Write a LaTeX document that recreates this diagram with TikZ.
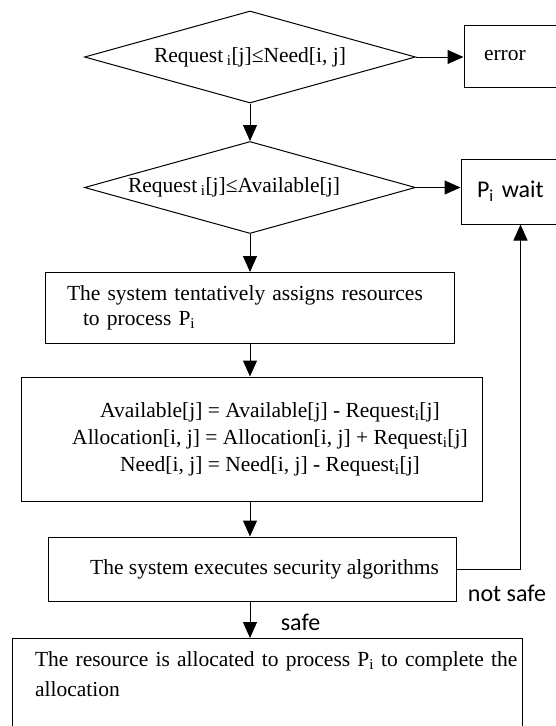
\documentclass[tikz,border=0pt]{standalone}
\usepackage{fontspec}
\setmainfont{Liberation Serif}
\newfontfamily\labelfont{Carlito}
\usetikzlibrary{shapes.geometric,arrows.meta,positioning}

\tikzset{
  decision/.style={diamond, draw, line width=1pt, aspect=3.6, minimum width=331pt,
    minimum height=92pt, inner sep=0pt, font=\fontsize{21.5}{25}\selectfont},
  process/.style={rectangle, draw, line width=1pt, inner sep=0pt, font=\fontsize{21.5}{25}\selectfont},
  arr/.style={line width=1pt, -{Triangle[width=14pt,length=16pt]}},
  note/.style={font=\labelfont\fontsize{24}{28}\selectfont}
}

\begin{document}
\begin{tikzpicture}[x=1pt, y=-1pt]
  \clip (0,0) rectangle (556,726);
  \useasboundingbox (0,0) rectangle (556,726);
  \coordinate (spine) at (250,0);

  % Checks
  \node[decision] (needchk) at (250,57) {Request\,\textsubscript{i}[j]≤Need[i, j]};
  \node[process, minimum width=130pt, minimum height=62pt, text width=90pt, align=left] (error) at (529,56) {error};

  \node[decision] (availchk) at (250,187.5) {\hspace*{-32pt}Request\,\textsubscript{i}[j]≤Available[j]};
  \node[process, minimum width=130pt, minimum height=65pt, text width=98pt, align=left,
    font=\labelfont\fontsize{24}{28}\selectfont] (wait) at (526,191.5) {P\textsubscript{i} wait};

  % Tentative allocation
  \node[process, minimum width=409pt, minimum height=71pt, text width=365pt, align=left] (assign) at (249.5,308)
    {The system tentatively assigns resources\\\hspace*{16pt}to process P\textsubscript{i}};

  \node[process, minimum width=461pt, minimum height=124pt, align=center,
    font=\fontsize{21.5}{27}\selectfont] (update) at (251.5,439)
    {\hspace*{37pt}Available[j] = Available[j] - Request\textsubscript{i}[j]\\
     \hspace*{37pt}Allocation[i, j] = Allocation[i, j] + Request\textsubscript{i}[j]\\
     \hspace*{37pt}Need[i, j] = Need[i, j] - Request\textsubscript{i}[j]};

  % Safety check
  \node[process, minimum width=408pt, minimum height=64pt, align=center] (check) at (252,569)
    {\hspace*{25pt}The system executes security algorithms};

  \node[process, anchor=north, minimum width=510pt, text width=464pt, inner ysep=13pt, align=left,
    font=\fontsize{21.5}{30}\selectfont] (grant) at (267,638)
    {\mbox{The resource is allocated to process P\textsubscript{i} to complete the}\\allocation\\\rule{0pt}{50pt}};

  % Connectors
  \draw[arr] (needchk.east) -- (needchk.east -| error.west);
  \draw[arr] (needchk) -- (availchk);
  \draw[arr] (availchk.east) -- (availchk.east -| wait.west);
  \draw[arr] (availchk.south) -- (spine |- assign.north);
  \draw[arr] (spine |- assign.south) -- (spine |- update.north);
  \draw[arr] (spine |- update.south) -- (spine |- check.north);
  \draw[arr] (spine |- check.south) -- (spine |- grant.north);
  \draw[arr] (check.east) -| ([xshift=-5.5pt]wait.south);

  \node[note] (notsafe) at (507,593) {not safe};
  \node[note] (safe) at (300.5,622) {safe};
\end{tikzpicture}
\end{document}
